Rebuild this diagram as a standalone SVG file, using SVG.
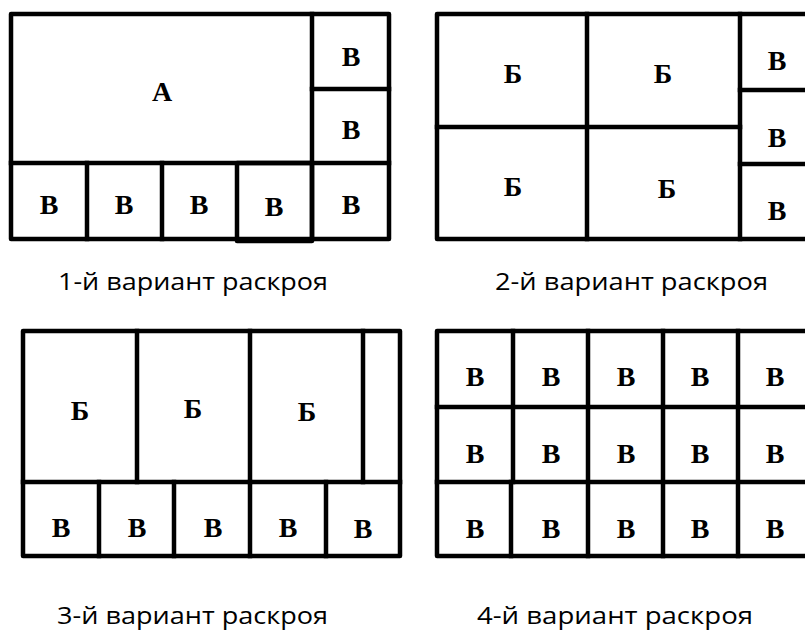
<svg xmlns="http://www.w3.org/2000/svg" width="805" height="631" viewBox="0 0 805 631">
  <style>
    .cut { fill: none; stroke: #000; stroke-width: 4.5; stroke-linejoin: round; stroke-linecap: square; }
    .part { font-family: "Liberation Serif", "Times New Roman", serif; font-weight: bold; font-size: 28px; text-anchor: middle; fill: #000; }
    .caption { font-family: "Open Sans", "Noto Sans", sans-serif; font-size: 24px; fill: #000; }
  </style>
  <rect width="805" height="631" fill="#fff"/>

  <!-- Variant 1: one A part, six B parts -->
  <g id="variant1">
    <g class="cut">
      <rect x="11" y="14" width="378" height="225"/>
      <line x1="312" y1="14" x2="312" y2="239"/>
      <line x1="11" y1="163" x2="389" y2="163"/>
      <line x1="312" y1="89" x2="389" y2="89"/>
      <line x1="87" y1="163" x2="87" y2="239"/>
      <line x1="162" y1="163" x2="162" y2="239"/>
      <rect x="237" y="163" width="75" height="78"/>
    </g>
    <text class="part" x="162" y="101">А</text>
    <text class="part" x="351" y="66">В</text>
    <text class="part" x="351" y="139">В</text>
    <text class="part" x="49" y="214">В</text>
    <text class="part" x="124" y="214">В</text>
    <text class="part" x="199" y="214">В</text>
    <text class="part" x="274" y="216">В</text>
    <text class="part" x="351" y="214">В</text>
  </g>

  <!-- Variant 2: four Б parts, three B parts -->
  <g id="variant2">
    <g class="cut">
      <polyline points="805,14 437,14 437,239 805,239"/>
      <line x1="587" y1="14" x2="587" y2="239"/>
      <line x1="437" y1="127" x2="740" y2="127"/>
      <line x1="740" y1="14" x2="740" y2="239"/>
      <line x1="740" y1="90" x2="805" y2="90"/>
      <line x1="740" y1="164" x2="805" y2="164"/>
    </g>
    <text class="part" x="513" y="83">Б</text>
    <text class="part" x="663" y="83">Б</text>
    <text class="part" x="513" y="196">Б</text>
    <text class="part" x="667" y="198">Б</text>
    <text class="part" x="777" y="70">В</text>
    <text class="part" x="777" y="147">В</text>
    <text class="part" x="777" y="220">В</text>
  </g>

  <!-- Variant 3: three Б parts, five B parts -->
  <g id="variant3">
    <g class="cut">
      <rect x="23" y="331" width="377" height="225"/>
      <line x1="137" y1="331" x2="137" y2="482"/>
      <line x1="250" y1="331" x2="250" y2="482"/>
      <line x1="363" y1="331" x2="363" y2="482"/>
      <line x1="23" y1="482" x2="400" y2="482"/>
      <line x1="99" y1="482" x2="99" y2="556"/>
      <line x1="174" y1="482" x2="174" y2="556"/>
      <line x1="250" y1="482" x2="250" y2="556"/>
      <line x1="326" y1="482" x2="326" y2="556"/>
    </g>
    <text class="part" x="80" y="420">Б</text>
    <text class="part" x="193" y="418">Б</text>
    <text class="part" x="307" y="421">Б</text>
    <text class="part" x="61" y="537">В</text>
    <text class="part" x="137" y="537">В</text>
    <text class="part" x="213" y="537">В</text>
    <text class="part" x="288" y="537">В</text>
    <text class="part" x="363" y="538">В</text>
  </g>

  <!-- Variant 4: fifteen B parts -->
  <g id="variant4">
    <g class="cut">
      <polyline points="805,331 437,331 437,556 805,556"/>
      <line x1="437" y1="407" x2="805" y2="407"/>
      <line x1="437" y1="482" x2="805" y2="482"/>
      <line x1="513" y1="331" x2="513" y2="482"/>
      <line x1="511" y1="482" x2="511" y2="556"/>
      <line x1="588" y1="331" x2="588" y2="556"/>
      <line x1="663" y1="331" x2="663" y2="556"/>
      <line x1="738" y1="331" x2="738" y2="556"/>
    </g>
    <text class="part" x="475" y="386">В</text>
    <text class="part" x="551" y="386">В</text>
    <text class="part" x="626" y="386">В</text>
    <text class="part" x="700" y="386">В</text>
    <text class="part" x="775" y="386">В</text>
    <text class="part" x="475" y="463">В</text>
    <text class="part" x="551" y="463">В</text>
    <text class="part" x="626" y="463">В</text>
    <text class="part" x="700" y="463">В</text>
    <text class="part" x="775" y="463">В</text>
    <text class="part" x="475" y="538">В</text>
    <text class="part" x="551" y="538">В</text>
    <text class="part" x="626" y="538">В</text>
    <text class="part" x="700" y="538">В</text>
    <text class="part" x="775" y="538">В</text>
  </g>

  <!-- Captions -->
  <text class="caption" x="58" y="290" textLength="270" lengthAdjust="spacingAndGlyphs">1-й вариант раскроя</text>
  <text class="caption" x="495" y="290" textLength="273" lengthAdjust="spacingAndGlyphs">2-й вариант раскроя</text>
  <text class="caption" x="57" y="624" textLength="271" lengthAdjust="spacingAndGlyphs">3-й вариант раскроя</text>
  <text class="caption" x="477" y="624" textLength="276" lengthAdjust="spacingAndGlyphs">4-й вариант раскроя</text>
</svg>
